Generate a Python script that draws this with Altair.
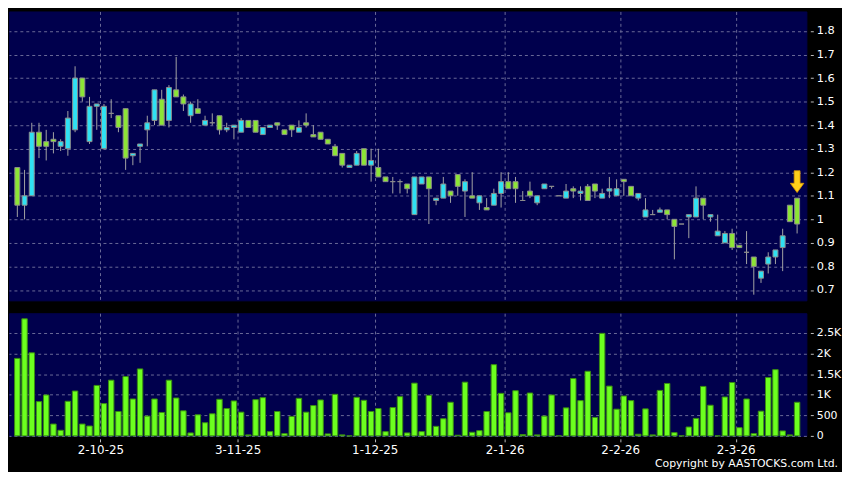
import json
import altair as alt
import pandas as pd

# ---- data ----
OPEN = [1.22, 1.06, 1.10, 1.37, 1.33, 1.34, 1.31, 1.30, 1.38, 1.60,
        1.33, 1.48, 1.30, 1.45, 1.44, 1.47, 1.27, 1.31, 1.38, 1.42,
        1.51, 1.42, 1.55, 1.52, 1.44, 1.47, 1.40, 1.41, 1.44, 1.38,
        1.39, 1.37, 1.42, 1.42, 1.36, 1.39, 1.41, 1.38, 1.40, 1.37,
        1.41, 1.36, 1.37, 1.34, 1.31, 1.28, 1.22, 1.23, 1.30, 1.23,
        1.22, 1.18, 1.16, 1.16, 1.15, 1.02, 1.15, 1.18, 1.08, 1.09,
        1.12, 1.19, 1.12, 1.10, 1.07, 1.05, 1.06, 1.11, 1.16, 1.16,
        1.08, 1.12, 1.07, 1.13, 1.14, 1.10, 1.09, 1.13, 1.11, 1.14,
        1.15, 1.09, 1.12, 1.10, 1.17, 1.14, 1.09, 1.01, 1.02, 1.03,
        1.04, 1.00, 0.98, 1.01, 1.01, 1.09, 1.01, 0.93, 0.90, 0.94,
        0.89, 0.86, 0.84, 0.75, 0.81, 0.84, 0.88, 1.06, 1.09]
HIGH = [1.22, 1.21, 1.41, 1.41, 1.38, 1.37, 1.34, 1.46, 1.65, 1.60,
        1.52, 1.49, 1.49, 1.51, 1.44, 1.47, 1.28, 1.32, 1.44, 1.55,
        1.55, 1.57, 1.69, 1.53, 1.50, 1.51, 1.44, 1.45, 1.44, 1.41,
        1.40, 1.43, 1.42, 1.42, 1.39, 1.40, 1.41, 1.38, 1.40, 1.42,
        1.45, 1.40, 1.37, 1.34, 1.32, 1.28, 1.23, 1.29, 1.30, 1.30,
        1.30, 1.18, 1.18, 1.17, 1.15, 1.18, 1.18, 1.18, 1.09, 1.18,
        1.12, 1.19, 1.17, 1.20, 1.10, 1.09, 1.13, 1.20, 1.20, 1.18,
        1.12, 1.16, 1.10, 1.15, 1.14, 1.10, 1.15, 1.14, 1.14, 1.15,
        1.15, 1.13, 1.18, 1.17, 1.17, 1.14, 1.11, 1.09, 1.04, 1.05,
        1.04, 1.00, 0.98, 1.02, 1.14, 1.09, 1.02, 1.02, 0.95, 0.96,
        0.89, 0.95, 0.84, 0.78, 0.86, 0.87, 0.96, 1.06, 1.09]
LOW = [1.01, 1.00, 1.10, 1.26, 1.25, 1.28, 1.29, 1.27, 1.37, 1.50,
       1.32, 1.38, 1.30, 1.43, 1.37, 1.21, 1.23, 1.24, 1.31, 1.40,
       1.40, 1.39, 1.52, 1.46, 1.41, 1.45, 1.40, 1.40, 1.36, 1.37,
       1.34, 1.37, 1.39, 1.37, 1.36, 1.39, 1.38, 1.36, 1.35, 1.37,
       1.39, 1.35, 1.34, 1.32, 1.27, 1.22, 1.22, 1.23, 1.23, 1.16,
       1.18, 1.16, 1.11, 1.11, 1.11, 1.02, 1.15, 0.98, 1.06, 1.09,
       1.07, 1.10, 1.01, 1.09, 1.04, 1.04, 1.06, 1.05, 1.13, 1.07,
       1.08, 1.09, 1.06, 1.13, 1.13, 1.10, 1.09, 1.09, 1.08, 1.08,
       1.09, 1.09, 1.09, 1.10, 1.10, 1.10, 1.08, 1.01, 1.02, 1.03,
       1.00, 0.83, 0.98, 0.92, 1.01, 1.00, 0.99, 0.93, 0.90, 0.87,
       0.88, 0.81, 0.68, 0.73, 0.77, 0.81, 0.78, 0.99, 0.94]
CLOSE = [1.06, 1.10, 1.37, 1.31, 1.31, 1.33, 1.33, 1.43, 1.60, 1.52,
         1.48, 1.49, 1.48, 1.45, 1.39, 1.26, 1.28, 1.32, 1.41, 1.55,
         1.40, 1.56, 1.52, 1.49, 1.49, 1.45, 1.42, 1.41, 1.38, 1.39,
         1.40, 1.42, 1.39, 1.37, 1.39, 1.40, 1.40, 1.36, 1.38, 1.39,
         1.40, 1.35, 1.34, 1.32, 1.27, 1.23, 1.23, 1.28, 1.23, 1.25,
         1.18, 1.16, 1.16, 1.16, 1.13, 1.18, 1.18, 1.13, 1.09, 1.15,
         1.10, 1.14, 1.16, 1.09, 1.10, 1.04, 1.11, 1.16, 1.13, 1.13,
         1.08, 1.10, 1.10, 1.15, 1.14, 1.10, 1.12, 1.12, 1.12, 1.08,
         1.12, 1.11, 1.13, 1.13, 1.16, 1.10, 1.11, 1.04, 1.02, 1.04,
         1.02, 0.97, 0.98, 1.02, 1.09, 1.06, 1.02, 0.95, 0.94, 0.88,
         0.88, 0.86, 0.80, 0.78, 0.84, 0.87, 0.93, 0.99, 0.98]
VOLUME = [1883, 2845, 2019, 833, 994, 288, 136, 841, 1090, 288,
          240, 1226, 785, 1354, 593, 1442, 897, 1627, 481, 897,
          569, 1354, 921, 609, 72, 513, 320, 537, 889, 665,
          849, 577, 24, 881, 929, 104, 593, 56, 473, 913,
          577, 737, 873, 48, 1010, 24, 0, 937, 865, 593,
          665, 104, 689, 953, 72, 1282, 104, 985, 232, 417,
          817, 16, 1306, 88, 128, 593, 1731, 1034, 561, 1098,
          32, 1042, 24, 481, 994, 0, 681, 1394, 857, 1571,
          449, 2492, 1210, 649, 969, 857, 40, 657, 24, 1105,
          1274, 80, 0, 216, 425, 1202, 745, 0, 945, 1298,
          200, 897, 56, 601, 1418, 1610, 120, 24, 817]

MONTH_POS = [11.5, 30.5, 49.5, 67.5, 83.5, 99.5]
MONTH_LABELS = ["2-10-25", "3-11-25", "1-12-25", "2-1-26", "2-2-26", "2-3-26"]
PRICE_TICKS = [0.7, 0.8, 0.9, 1.0, 1.1, 1.2, 1.3, 1.4, 1.5, 1.6, 1.7, 1.8]
VOL_TICKS = [0, 500, 1000, 1500, 2000, 2500]
ARROW_INDEX = [108]
ARROW_PRICE = [1.16]
COPYRIGHT = ["Copyright by AASTOCKS.com Ltd."]

# ---- tables ----
n = len(OPEN)
df = pd.DataFrame({
    "i": list(range(n)),
    "open": OPEN, "high": HIGH, "low": LOW, "close": CLOSE, "vol": VOLUME,
})
df["dir"] = ["up" if c > o else ("down" if c < o else "flat") for o, c in zip(OPEN, CLOSE)]
arrow_df = pd.DataFrame({"i": ARROW_INDEX, "p": ARROW_PRICE})
copy_df = pd.DataFrame({"t": COPYRIGHT})

# ---- layout / style ----
W = 806
H_TOP = 292
H_BOT = 124
X_DOMAIN = [-0.47, 108.6]
P_DOMAIN = [0.6559, 1.8828]
V_DOMAIN = [0, 2981]
PANEL = "#00004d"
GRID = "#6a6a98"
CYAN = "#2fe1f3"
GREEN = "#8ce536"
VOLGREEN = "#6cff1f"
FONT = "DejaVu Sans"

xs = alt.Scale(domain=X_DOMAIN, nice=False, zero=False)
ps = alt.Scale(domain=P_DOMAIN, nice=False, zero=False)
vs = alt.Scale(domain=V_DOMAIN, nice=False)

x_top_axis = alt.Axis(values=MONTH_POS, labels=False, ticks=False, domain=False, grid=True,
                      title=None)
label_expr = f"{json.dumps(MONTH_LABELS)}[indexof({json.dumps(MONTH_POS)}, datum.value)]"
x_bot_axis = alt.Axis(values=MONTH_POS, labelExpr=label_expr, grid=True, domain=False, ticks=True,
                      tickSize=3, offset=3, labelPadding=3, labelFontSize=12, labelOverlap=False,
                      title=None)
y_price_axis = alt.Axis(orient="right", values=PRICE_TICKS, format="~g", title=None, offset=4,
                        tickSize=3, labelPadding=3, domain=False, grid=True, labelOverlap=False,
                        tickCount=12, labelFontSize=11.5)

base = alt.Chart(df)

wicks = base.mark_rule(color="#a4a4a4", strokeWidth=1).encode(
    x=alt.X("i:Q", scale=xs, axis=x_top_axis),
    y=alt.Y("low:Q", scale=ps, axis=y_price_axis),
    y2="high:Q",
)
bodies = base.mark_bar(size=5, stroke="#8c8c8c", strokeWidth=1).encode(
    x=alt.X("i:Q", scale=xs, axis=x_top_axis),
    y=alt.Y("open:Q", scale=ps, axis=y_price_axis),
    y2="close:Q",
    color=alt.Color("dir:N", scale=alt.Scale(domain=["up", "down", "flat"],
                                             range=[CYAN, GREEN, "#8c8c8c"]), legend=None),
)
ARROW_PATH = "M-0.27,-1 L0.27,-1 L0.27,0.15 L0.62,0.15 L0,1 L-0.62,0.15 L-0.27,0.15 Z"
arrow = alt.Chart(arrow_df).mark_point(shape=ARROW_PATH, size=484, filled=True,
                                       fill="#ffcf1a", stroke="#e09a00", strokeWidth=0.8,
                                       opacity=1).encode(
    x=alt.X("i:Q", scale=xs, axis=x_top_axis),
    y=alt.Y("p:Q", scale=ps, axis=y_price_axis),
)
top = alt.layer(wicks, bodies, arrow).properties(width=W, height=H_TOP)

vol_label = "datum.value >= 1000 ? format(datum.value / 1000, '~g') + 'K' : format(datum.value, 'd')"
vol = base.mark_bar(size=5.5, fill=VOLGREEN, stroke="#3a8c12", strokeWidth=1).encode(
    x=alt.X("i:Q", scale=xs, axis=x_bot_axis),
    y=alt.Y("vol:Q", scale=vs, axis=alt.Axis(orient="right", values=VOL_TICKS, labelExpr=vol_label,
                                             title=None, offset=4, tickSize=3, labelPadding=3,
                                             domain=False, grid=True, labelOverlap=False)),
)
copyright_txt = alt.Chart(copy_df).mark_text(align="right", baseline="alphabetic", color="white",
                                             font=FONT, fontSize=11).encode(
    x=alt.value(838), y=alt.value(155), text="t:N")
bottom = alt.layer(vol, copyright_txt).properties(width=W, height=H_BOT)

chart = alt.vconcat(top, bottom, spacing=11).properties(
    padding={"left": 0, "top": 0, "right": 0, "bottom": 0},
    background="#000000",
).configure_view(
    fill=PANEL, stroke=PANEL,
).configure_axis(
    labelColor="#ffffff", labelFont=FONT, labelFontSize=11,
    gridColor=GRID, gridDash=[3, 3], gridWidth=1, tickColor="#bdbdbd",
)

chart.save("out.html", embed_options={"renderer": "svg", "actions": False})
